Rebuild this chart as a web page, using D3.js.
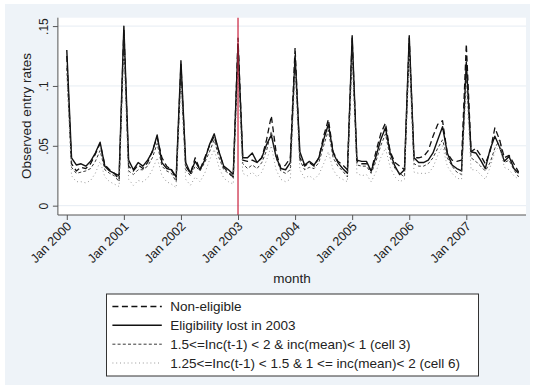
<!DOCTYPE html>
<html>
<head>
<meta charset="utf-8">
<script src="https://cdn.jsdelivr.net/npm/d3@7"></script>
<style>
  html, body { margin: 0; padding: 0; background: #ffffff; }
  svg { display: block; font-family: Arial, "Liberation Sans", sans-serif; }
</style>
</head>
<body>
<svg id="chart" width="534" height="390"></svg>
<script>
// Monthly entry rates, Jan 2000 .. Dec 2007 (index 0 = Jan 2000)
const startYear = 2000;
const policyMonth = 36; // Jan 2003

const nonEligible = [
  0.125,0.035,0.029,0.032,0.031,0.035,0.043,0.052,0.034,0.030,0.027,0.022,
  0.148,0.033,0.029,0.034,0.031,0.036,0.046,0.057,0.040,0.033,0.030,0.022,
  0.118,0.033,0.027,0.040,0.030,0.040,0.050,0.058,0.045,0.032,0.028,0.024,
  0.140,0.038,0.037,0.038,0.036,0.040,0.055,0.075,0.045,0.031,0.034,0.040,
  0.132,0.040,0.033,0.036,0.033,0.040,0.058,0.072,0.045,0.037,0.034,0.030,
  0.140,0.037,0.035,0.035,0.029,0.045,0.060,0.069,0.045,0.036,0.033,0.030,
  0.140,0.040,0.040,0.041,0.046,0.058,0.068,0.071,0.044,0.038,0.037,0.038,
  0.135,0.045,0.048,0.042,0.035,0.045,0.065,0.055,0.040,0.042,0.035,0.028
];

const lost2003 = [
  0.130,0.040,0.034,0.035,0.033,0.037,0.044,0.053,0.033,0.029,0.027,0.025,
  0.150,0.038,0.030,0.036,0.033,0.038,0.045,0.059,0.036,0.031,0.030,0.024,
  0.121,0.036,0.027,0.037,0.030,0.038,0.051,0.060,0.045,0.033,0.030,0.026,
  0.135,0.040,0.040,0.044,0.036,0.040,0.051,0.059,0.041,0.031,0.030,0.036,
  0.125,0.045,0.034,0.037,0.034,0.040,0.055,0.068,0.044,0.036,0.031,0.027,
  0.142,0.038,0.037,0.037,0.029,0.041,0.055,0.065,0.044,0.033,0.026,0.030,
  0.142,0.040,0.036,0.036,0.038,0.044,0.055,0.066,0.044,0.034,0.031,0.029,
  0.120,0.045,0.044,0.038,0.031,0.047,0.058,0.049,0.037,0.041,0.031,0.027
];

const cell3 = [
  0.115,0.032,0.027,0.028,0.029,0.031,0.037,0.046,0.030,0.027,0.025,0.020,
  0.140,0.029,0.026,0.030,0.030,0.033,0.040,0.052,0.033,0.029,0.027,0.020,
  0.110,0.030,0.025,0.033,0.029,0.036,0.045,0.055,0.040,0.030,0.027,0.023,
  0.125,0.035,0.031,0.034,0.031,0.036,0.046,0.062,0.040,0.029,0.027,0.030,
  0.120,0.038,0.030,0.032,0.031,0.036,0.050,0.063,0.040,0.033,0.029,0.024,
  0.130,0.034,0.033,0.033,0.027,0.037,0.050,0.060,0.040,0.031,0.027,0.024,
  0.130,0.035,0.033,0.033,0.035,0.040,0.048,0.055,0.040,0.033,0.028,0.026,
  0.110,0.040,0.037,0.033,0.029,0.036,0.048,0.055,0.036,0.038,0.030,0.024
];

const cell6 = [
  0.110,0.025,0.020,0.020,0.019,0.021,0.027,0.037,0.024,0.020,0.018,0.016,
  0.125,0.022,0.017,0.021,0.020,0.023,0.030,0.040,0.025,0.020,0.018,0.015,
  0.100,0.022,0.017,0.024,0.020,0.027,0.038,0.047,0.032,0.023,0.020,0.018,
  0.110,0.027,0.025,0.028,0.024,0.028,0.038,0.050,0.030,0.022,0.020,0.022,
  0.110,0.030,0.023,0.025,0.022,0.026,0.035,0.045,0.030,0.024,0.022,0.020,
  0.120,0.027,0.025,0.026,0.020,0.028,0.040,0.048,0.032,0.024,0.020,0.022,
  0.125,0.028,0.027,0.027,0.027,0.032,0.042,0.050,0.033,0.027,0.023,0.022,
  0.100,0.030,0.030,0.026,0.022,0.032,0.045,0.050,0.032,0.030,0.025,0.022
];

const yTicks = [0, 0.05, 0.1, 0.15];
const yTickLabels = ["0", ".05", ".1", ".15"];
const xTicks = [0, 12, 24, 36, 48, 60, 72, 84];
const xTickLabels = ["Jan 2000", "Jan 2001", "Jan 2002", "Jan 2003",
                     "Jan 2004", "Jan 2005", "Jan 2006", "Jan 2007"];

const legendLabels = [
  "Non-eligible",
  "Eligibility lost in 2003",
  "1.5<=Inc(t-1) < 2 & inc(mean)< 1 (cell 3)",
  "1.25<=Inc(t-1) < 1.5 & 1 <= inc(mean)< 2 (cell 6)"
];

const seriesStyles = [
  { data: nonEligible, stroke: "#111", width: 1.3, dash: "6,3.5" },
  { data: lost2003,    stroke: "#111", width: 1.4, dash: null },
  { data: cell3,       stroke: "#222", width: 0.9, dash: "3,2.2" },
  { data: cell6,       stroke: "#999", width: 1.0, dash: "1,2.8" }
];

const svg = d3.select("#chart");
const W = 534, H = 390;

// outer graph region
svg.append("rect").attr("x", 0).attr("y", 0).attr("width", W).attr("height", H).attr("fill", "#ffffff");
svg.append("rect").attr("x", 5).attr("y", 4).attr("width", 525).attr("height", 381).attr("fill", "#eef3f8");

const plot = { left: 57.9, right: 526, top: 17.7, bottom: 215 };

// plot region
svg.append("rect")
  .attr("x", plot.left).attr("y", plot.top)
  .attr("width", plot.right - plot.left).attr("height", plot.bottom - plot.top)
  .attr("fill", "#ffffff");

const x = d3.scaleLinear().domain([-1.87, 96.55]).range([plot.left, plot.right]);
const y = d3.scaleLinear().domain([-0.0078, 0.157]).range([plot.bottom, plot.top]);

// horizontal grid
svg.append("g").selectAll("line").data(yTicks).join("line")
  .attr("x1", plot.left).attr("x2", plot.right)
  .attr("y1", d => y(d)).attr("y2", d => y(d))
  .attr("stroke", "#e6edf3").attr("stroke-width", 1);

// series
const line = d3.line().x((d, i) => x(i)).y(d => y(d));
const gLines = svg.append("g").attr("fill", "none");
seriesStyles.forEach(s => {
  gLines.append("path")
    .attr("d", line(s.data))
    .attr("stroke", s.stroke)
    .attr("stroke-width", s.width)
    .attr("stroke-dasharray", s.dash)
    .attr("stroke-linejoin", "round");
});

// policy change marker
svg.append("line")
  .attr("x1", x(policyMonth)).attr("x2", x(policyMonth))
  .attr("y1", plot.top).attr("y2", plot.bottom)
  .attr("stroke", "#c8203c").attr("stroke-width", 1.2);

// y axis
const yAxis = d3.axisLeft(y).tickValues(yTicks).tickSize(5).tickPadding(6)
  .tickFormat((d, i) => yTickLabels[i]);
const gy = svg.append("g").attr("transform", `translate(${plot.left},0)`).call(yAxis);
gy.select(".domain").attr("stroke", "#555").attr("d", `M0,${plot.top}V${plot.bottom}`);
gy.selectAll(".tick line").attr("stroke", "#555");
gy.selectAll(".tick text")
  .attr("font-size", 12).attr("fill", "#222")
  .attr("text-anchor", "middle")
  .attr("x", 0).attr("dy", 0)
  .attr("transform", "translate(-14,0) rotate(-90)")
  .attr("dominant-baseline", "central");

// x axis
const xAxis = d3.axisBottom(x).tickValues(xTicks).tickSize(5).tickPadding(3)
  .tickFormat((d, i) => xTickLabels[i]);
const gx = svg.append("g").attr("transform", `translate(0,${plot.bottom})`).call(xAxis);
gx.select(".domain").attr("stroke", "#555").attr("d", `M${plot.left},0H${plot.right}`);
gx.selectAll(".tick line").attr("stroke", "#555");
gx.selectAll(".tick text")
  .attr("font-size", 12.6).attr("fill", "#222")
  .attr("text-anchor", "end")
  .attr("x", 0).attr("y", 0).attr("dy", 0)
  .attr("transform", "translate(5,12) rotate(-45)");

// axis titles
svg.append("text")
  .attr("x", 292).attr("y", 283)
  .attr("text-anchor", "middle").attr("font-size", 13.5).attr("fill", "#222")
  .text("month");
svg.append("text")
  .attr("transform", "translate(31,116) rotate(-90)")
  .attr("text-anchor", "middle").attr("font-size", 13.5).attr("fill", "#222")
  .text("Observed entry rates");

// legend
const lg = svg.append("g");
lg.append("rect")
  .attr("x", 106.5).attr("y", 294).attr("width", 372).attr("height", 82)
  .attr("fill", "#ffffff").attr("stroke", "#333").attr("stroke-width", 1);
const rowY = [306.5, 325.3, 344.2, 363];
legendLabels.forEach((lab, i) => {
  const s = seriesStyles[i];
  lg.append("line")
    .attr("x1", 112.4).attr("x2", 161.8)
    .attr("y1", rowY[i]).attr("y2", rowY[i])
    .attr("stroke", s.stroke).attr("stroke-width", s.width)
    .attr("stroke-dasharray", s.dash);
  lg.append("text")
    .attr("x", 170.3).attr("y", rowY[i]).attr("dy", "0.36em")
    .attr("font-size", 13.5).attr("fill", "#222")
    .text(lab);
});
</script>
</body>
</html>
